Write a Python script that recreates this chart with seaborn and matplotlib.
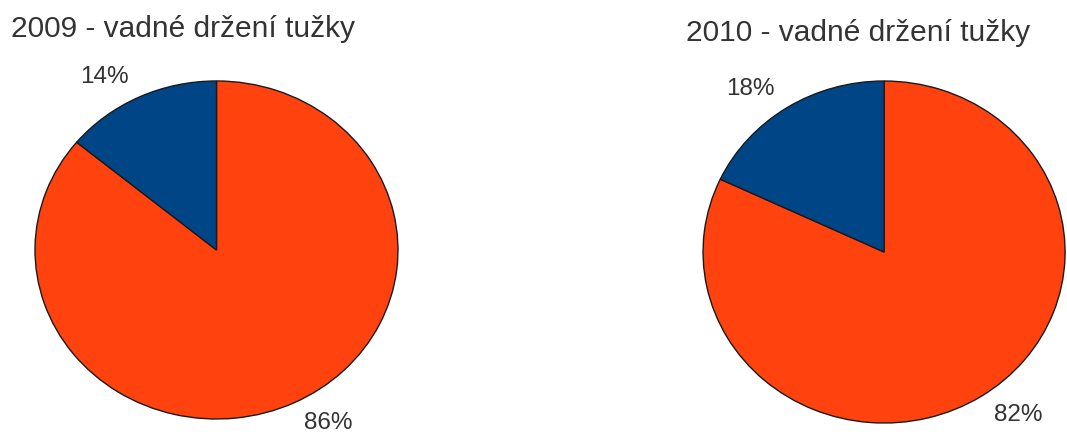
import seaborn as sns
import matplotlib.pyplot as plt

# data
categories = ["správné", "vadné"]
years = ["2009", "2010"]
values_2009 = [86, 14]
values_2010 = [82, 18]
colors = ["#FF420E", "#004586"]

sns.set_style("white")
plt.rcParams["font.family"] = ["Liberation Sans", "DejaVu Sans"]

fig = plt.figure(figsize=(10.67, 4.37), dpi=100)

# axes boxes in figure fractions (pies are slightly stretched horizontally)
boxes = [[0.0328, 0.0412, 0.3402, 0.7735],
         [0.6589, 0.0320, 0.3393, 0.7826]]
title_pos = [(0.010, 0.934), (0.643, 0.925)]

for year, vals, box, tpos in zip(years, [values_2009, values_2010], boxes, title_pos):
    ax = fig.add_axes(box)
    labels = [f"{v}%" for v in vals]
    wedges, texts = ax.pie(vals, labels=labels, colors=colors, startangle=90,
                           counterclock=False, labeldistance=1.13,
                           wedgeprops=dict(edgecolor="#1a1a1a", linewidth=1.0),
                           textprops=dict(fontsize=17.5, color="#333333"))
    ax.set_aspect("auto")
    ax.set_xlim(-1, 1)
    ax.set_ylim(-1, 1)
    ax.axis("off")
    fig.text(tpos[0], tpos[1], f"{year} - vadné držení tužky", fontsize=21.5,
             color="#333333", ha="left", va="center")

plt.savefig("out.png", dpi=100)
